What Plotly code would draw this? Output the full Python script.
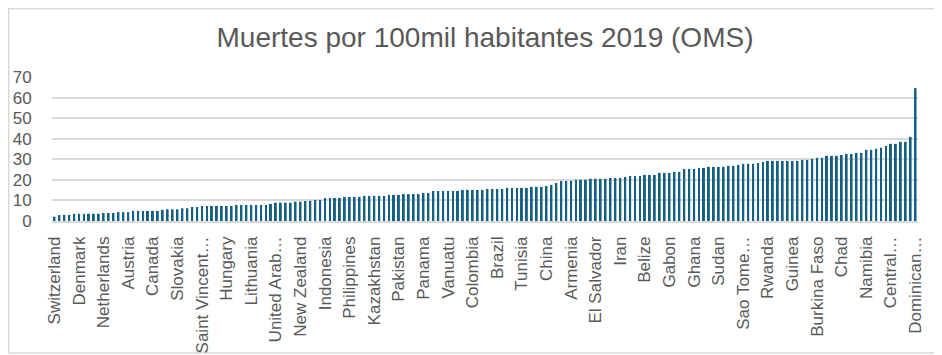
import plotly.graph_objects as go

countries = [
    "Switzerland", "Sweden", "United Kingdom", "Iceland", "Ireland",
    "Denmark", "Singapore", "Malta", "Germany", "Japan",
    "Netherlands", "Spain", "Israel", "Finland", "Estonia",
    "Austria", "Slovenia", "Luxembourg", "France", "Cyprus",
    "Canada", "Italy", "Belgium", "Czechia", "Portugal",
    "Slovakia", "Australia", "Kuwait", "Maldives", "Antigua and Barbuda",
    "Saint Vincent and the Grenadines", "Croatia", "Barbados", "Serbia", "Bahamas",
    "Hungary", "Greece", "Latvia", "Poland", "Bosnia and Herzegovina",
    "Lithuania", "North Macedonia", "Bulgaria", "Montenegro", "Albania",
    "United Arab Emirates", "Trinidad and Tobago", "Romania", "Tajikistan", "Qatar",
    "New Zealand", "Lebanon", "Georgia", "Sri Lanka", "Azerbaijan",
    "Indonesia", "Uzbekistan", "Bhutan", "United States", "Ukraine",
    "Philippines", "Papua New Guinea", "Cuba", "Belarus", "Turkey",
    "Kazakhstan", "Republic of Moldova", "Mongolia", "Samoa", "Egypt",
    "Pakistan", "Kyrgyzstan", "Bangladesh", "Grenada", "Chile",
    "Panama", "Costa Rica", "Nepal", "Iraq", "Honduras",
    "Vanuatu", "Timor-Leste", "Tonga", "Argentina", "Mexico",
    "Colombia", "Guatemala", "Nicaragua", "Fiji", "Uruguay",
    "Brazil", "Seychelles", "Algeria", "Peru", "Mauritius",
    "Tunisia", "Myanmar", "Jamaica", "Russian Federation", "Morocco",
    "China", "Jordan", "Bahrain", "Saudi Arabia", "Turkmenistan",
    "Armenia", "Suriname", "Cambodia", "Guyana", "Lao PDR",
    "El Salvador", "Paraguay", "Ecuador", "Malaysia", "Bolivia",
    "Iran", "Syrian Arab Republic", "Oman", "Yemen", "Viet Nam",
    "Belize", "South Sudan", "Senegal", "Libya", "Gambia",
    "Gabon", "Botswana", "Afghanistan", "Mali", "Thailand",
    "Ghana", "Ethiopia", "Equatorial Guinea", "Comoros", "Malawi",
    "Sudan", "Angola", "Côte d'Ivoire", "Cameroon", "Benin",
    "Sao Tome and Principe", "Mauritania", "Sierra Leone", "Eswatini", "Mozambique",
    "Rwanda", "Madagascar", "Djibouti", "Uganda", "Kenya",
    "Guinea", "Niger", "Somalia", "Cabo Verde", "Togo",
    "Burkina Faso", "Guinea-Bissau", "Congo", "Eritrea", "Nigeria",
    "Chad", "Tanzania", "Burundi", "Lesotho", "Haiti",
    "Namibia", "DR Congo", "Liberia", "Zambia", "South Africa",
    "Central African Republic", "Venezuela", "Saint Lucia", "Kiribati", "Zimbabwe",
    "Dominican Republic",
]

deaths = [
    2.1, 2.9, 3.0, 3.0, 3.5, 3.5, 3.5, 3.5, 3.5, 3.5,
    3.9, 3.9, 3.9, 4.3, 4.3, 4.3, 4.9, 4.9, 4.9, 4.9,
    4.9, 4.9, 5.4, 5.7, 5.7, 5.7, 6.2, 6.2, 6.8, 6.8,
    7.3, 7.3, 7.3, 7.3, 7.3, 7.3, 7.3, 7.8, 7.8, 7.8,
    7.8, 7.8, 7.8, 7.8, 8.3, 8.9, 8.9, 8.9, 8.9, 9.4,
    9.4, 9.7, 9.8, 10.2, 10.2, 11.2, 11.2, 11.2, 11.2, 11.7,
    11.7, 11.7, 11.7, 12.2, 12.2, 12.2, 12.2, 12.2, 12.7, 12.7,
    12.7, 13.1, 13.1, 13.1, 13.1, 13.6, 13.6, 14.6, 14.6, 14.6,
    14.6, 14.6, 14.6, 15.1, 15.1, 15.1, 15.1, 15.1, 15.6, 15.6,
    15.6, 15.6, 16.1, 16.1, 16.1, 16.1, 16.1, 16.6, 16.6, 16.6,
    17.0, 17.5, 18.5, 19.5, 19.5, 19.5, 20.0, 20.0, 20.0, 20.5,
    20.5, 20.5, 20.5, 20.9, 20.9, 20.9, 21.4, 21.9, 21.9, 21.9,
    22.4, 22.4, 22.4, 23.4, 23.4, 23.4, 23.9, 23.9, 25.3, 25.3,
    25.3, 25.8, 25.8, 26.3, 26.3, 26.3, 26.3, 26.8, 26.8, 27.3,
    27.8, 27.8, 27.8, 28.2, 28.7, 29.2, 29.2, 29.2, 29.2, 29.2,
    29.2, 29.2, 29.7, 29.7, 30.2, 30.7, 30.7, 31.7, 31.7, 31.7,
    32.1, 32.6, 32.6, 33.1, 33.1, 34.6, 34.6, 35.1, 35.6, 36.5,
    37.5, 37.5, 38.5, 38.5, 40.9, 64.6,
]

label_step = 5
tick_labels = [
    "Switzerland", "Denmark", "Netherlands", "Austria", "Canada", "Slovakia",
    "Saint Vincent…", "Hungary", "Lithuania", "United Arab…", "New Zealand",
    "Indonesia", "Philippines", "Kazakhstan", "Pakistan", "Panama", "Vanuatu",
    "Colombia", "Brazil", "Tunisia", "China", "Armenia", "El Salvador", "Iran",
    "Belize", "Gabon", "Ghana", "Sudan", "Sao Tome…", "Rwanda", "Guinea",
    "Burkina Faso", "Chad", "Namibia", "Central…", "Dominican…",
]
y_ticks = [0, 10, 20, 30, 40, 50, 60, 70]

# the page body has an 8px margin, so the figure starts at (8, 8)
OFF = 8
W, H = 942 - OFF, 355 - OFF
L, R, T, B = 52 - OFF, 24, 77 - OFF, 134
pw, ph = W - L - R, H - T - B

fig = go.Figure(go.Bar(
    x=countries, y=deaths,
    marker=dict(color="#156082", line=dict(width=0)),
))

# chart-area border
fig.add_shape(type="rect", xref="paper", yref="paper",
              x0=(0.75 - L) / pw, x1=(932 - L) / pw,
              y0=(H - B - 345) / ph, y1=(H - B - 0.75) / ph,
              line=dict(color="#D9D9D9", width=1.5), fillcolor="rgba(0,0,0,0)",
              layer="below")

fig.update_layout(
    width=W, height=H,
    margin=dict(l=L, r=R, t=T, b=B, autoexpand=False),
    paper_bgcolor="white", plot_bgcolor="white",
    bargap=0.6,
    showlegend=False,
    title=dict(text="Muertes por 100mil habitantes 2019 (OMS)",
               x=0.5, xref="paper", xanchor="center",
               y=1 - (37 - OFF) / H, yanchor="middle",
               font=dict(family="Liberation Sans, Arial", size=28, color="#595959")),
    font=dict(family="Liberation Sans, Arial", color="#595959"),
)
fig.update_xaxes(
    tickmode="array",
    tickvals=countries[::label_step],
    ticktext=tick_labels,
    tickangle=-90,
    tickfont=dict(size=17, color="#595959"),
    showgrid=False,
    showline=True, linecolor="#D9D9D9", linewidth=1.5,
    ticks="outside", ticklen=7, tickcolor="rgba(0,0,0,0)",
    range=[-0.5, len(countries) - 0.5],
)
fig.update_yaxes(
    range=[0, 70],
    tickmode="array", tickvals=y_ticks,
    tickfont=dict(size=17, color="#595959"),
    showgrid=True, gridcolor="#D9D9D9", gridwidth=1.5,
    zeroline=False, showline=False,
    ticks="outside", ticklen=16, tickcolor="rgba(0,0,0,0)",
)

fig.write_html("out.html")
